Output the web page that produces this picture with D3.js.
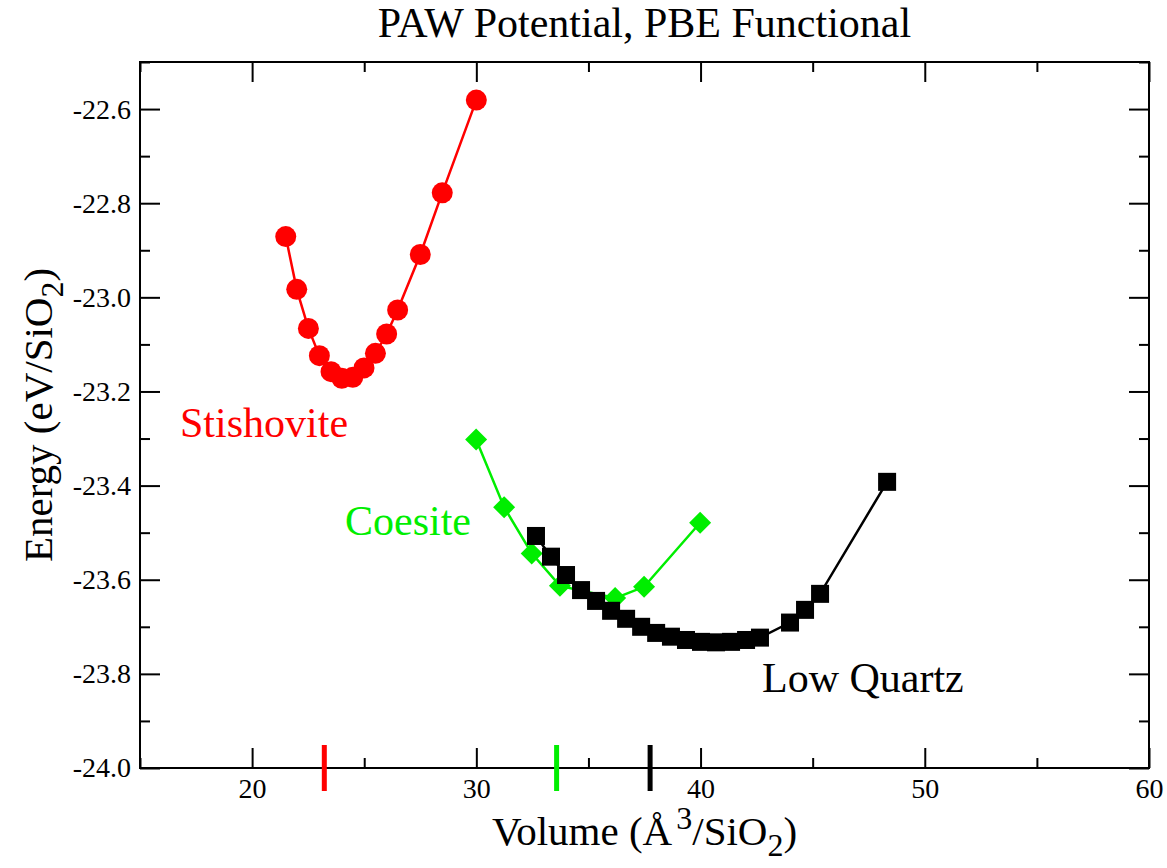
<!DOCTYPE html>
<html>
<head>
<meta charset="utf-8">
<script src="https://cdn.jsdelivr.net/npm/d3@7"></script>
<style>
  body { margin: 0; background: #fff; }
  text { font-family: "Liberation Serif", "Times New Roman", Times, serif; }
</style>
</head>
<body>
<svg id="chart" width="1167" height="868"></svg>
<script>
// data
var stishoviteVol = [21.50, 21.99, 22.51, 23.00, 23.52, 24.00, 24.49, 24.99, 25.50, 26.00, 26.49, 27.50, 28.48, 30.00];
var stishoviteE = [-22.871, -22.983, -23.066, -23.124, -23.158, -23.172, -23.170, -23.150, -23.119, -23.078, -23.027, -22.909, -22.778, -22.581];

var coesiteVol = [29.99, 31.24, 32.47, 33.73, 36.19, 37.48, 39.98];
var coesiteE = [-23.302, -23.446, -23.544, -23.613, -23.639, -23.615, -23.479];

var quartzVol = [32.66, 33.33, 34.00, 34.67, 35.34, 36.01, 36.68, 37.35, 38.02, 38.68, 39.35, 40.02, 40.69, 41.36, 42.03, 42.65, 43.99, 44.66, 45.33, 48.32];
var quartzE = [-23.507, -23.551, -23.590, -23.622, -23.645, -23.666, -23.683, -23.700, -23.713, -23.721, -23.728, -23.732, -23.733, -23.732, -23.728, -23.723, -23.691, -23.664, -23.630, -23.392];

// equilibrium volume marks on the x axis
var eqVolumes = [23.22, 33.58, 37.75];
var eqColors = ["#ff0000", "#00ee00", "#000000"];

var xTicks = [20, 30, 40, 50, 60];
var yTicks = [-24.0, -23.8, -23.6, -23.4, -23.2, -23.0, -22.8, -22.6];

var svg = d3.select("#chart");
// plot box (note: "top" is taken by window.top)
var mLeft = 140, mRight = 1149, mTop = 62, mBottom = 768;

var x = d3.scaleLinear().domain([15, 60]).range([mLeft, mRight]);
var y = d3.scaleLinear().domain([-24, -22.5]).range([mBottom, mTop]);

var zip = (xs, ys) => xs.map((v, i) => ({ x: v, y: ys[i] }));
var line = d3.line().x(d => x(d.x)).y(d => y(d.y));

// ticks on all four sides, pointing inward
var majorX = d3.range(15, 60.1, 5).filter(v => v % 10 == 0);
var minorX = d3.range(15, 60.1, 5).filter(v => v % 10 != 0);
var majorY = d3.range(-24, -22.49, 0.2).map(v => +v.toFixed(1));
var minorY = d3.range(-23.9, -22.49, 0.2).map(v => +v.toFixed(1));

function styleAxis(g) {
  g.attr("font-family", null).attr("font-size", null);
  g.select(".domain").remove();
  g.selectAll("line").attr("stroke", "#000").attr("stroke-width", 2);
  g.selectAll("text").attr("fill", "#000").style("font-size", "28px");
}

svg.append("g").attr("transform", "translate(0," + mBottom + ")")
  .call(d3.axisBottom(x).tickValues(xTicks).tickSize(-20).tickPadding(10).tickFormat(d3.format("d")))
  .call(styleAxis);
svg.append("g").attr("transform", "translate(0," + mBottom + ")")
  .call(d3.axisBottom(x).tickValues(minorX).tickSize(-10).tickFormat(""))
  .call(styleAxis);
svg.append("g").attr("transform", "translate(0," + mTop + ")")
  .call(d3.axisTop(x).tickValues(majorX).tickSize(-20).tickFormat(""))
  .call(styleAxis);
svg.append("g").attr("transform", "translate(0," + mTop + ")")
  .call(d3.axisTop(x).tickValues(minorX).tickSize(-10).tickFormat(""))
  .call(styleAxis);

svg.append("g").attr("transform", "translate(" + mLeft + ",0)")
  .call(d3.axisLeft(y).tickValues(yTicks).tickSize(-20).tickPadding(9).tickFormat(d => d.toFixed(1)))
  .call(styleAxis);
svg.append("g").attr("transform", "translate(" + mLeft + ",0)")
  .call(d3.axisLeft(y).tickValues(minorY).tickSize(-10).tickFormat(""))
  .call(styleAxis);
svg.append("g").attr("transform", "translate(" + mRight + ",0)")
  .call(d3.axisRight(y).tickValues(majorY).tickSize(-20).tickFormat(""))
  .call(styleAxis);
svg.append("g").attr("transform", "translate(" + mRight + ",0)")
  .call(d3.axisRight(y).tickValues(minorY).tickSize(-10).tickFormat(""))
  .call(styleAxis);

// frame
svg.append("rect")
  .attr("x", mLeft).attr("y", mTop)
  .attr("width", mRight - mLeft).attr("height", mBottom - mTop)
  .attr("fill", "none").attr("stroke", "#000").attr("stroke-width", 2);

// equilibrium volume bars
svg.selectAll(".eq").data(eqVolumes).enter().append("line")
  .attr("x1", d => x(d)).attr("x2", d => x(d))
  .attr("y1", mBottom - 23).attr("y2", mBottom + 23)
  .attr("stroke", (d, i) => eqColors[i]).attr("stroke-width", 5);

// stishovite
var stish = zip(stishoviteVol, stishoviteE);
svg.append("path").datum(stish).attr("d", line)
  .attr("fill", "none").attr("stroke", "#ff0000").attr("stroke-width", 2.5);
svg.selectAll(".stish").data(stish).enter().append("circle")
  .attr("cx", d => x(d.x)).attr("cy", d => y(d.y)).attr("r", 10.5)
  .attr("fill", "#ff0000");

// coesite
var coes = zip(coesiteVol, coesiteE);
svg.append("path").datum(coes).attr("d", line)
  .attr("fill", "none").attr("stroke", "#00ee00").attr("stroke-width", 2.5);
svg.selectAll(".coes").data(coes).enter().append("path")
  .attr("d", "M0,-11L11,0L0,11L-11,0Z")
  .attr("transform", d => "translate(" + x(d.x) + "," + y(d.y) + ")")
  .attr("fill", "#00ee00");

// low quartz
var quartz = zip(quartzVol, quartzE);
svg.append("path").datum(quartz).attr("d", line)
  .attr("fill", "none").attr("stroke", "#000").attr("stroke-width", 2.5);
svg.selectAll(".qtz").data(quartz).enter().append("rect")
  .attr("x", d => x(d.x) - 9).attr("y", d => y(d.y) - 9)
  .attr("width", 18).attr("height", 18)
  .attr("fill", "#000");

// series labels
svg.append("text").attr("x", 180).attr("y", 437).attr("fill", "#ff0000")
  .style("font-size", "42px").text("Stishovite");
svg.append("text").attr("x", 345).attr("y", 535).attr("fill", "#00ee00")
  .style("font-size", "42px").text("Coesite");
svg.append("text").attr("x", 762).attr("y", 692).attr("fill", "#000")
  .style("font-size", "42px").text("Low Quartz");

// title
svg.append("text").attr("x", (mLeft + mRight) / 2).attr("y", 37)
  .attr("text-anchor", "middle").style("font-size", "42px")
  .text("PAW Potential, PBE Functional");

// x label
var xl = svg.append("text").attr("x", (mLeft + mRight) / 2).attr("y", 845)
  .attr("text-anchor", "middle").style("font-size", "41px");
xl.append("tspan").text("Volume (Å");
xl.append("tspan").attr("dy", -16).attr("dx", 4).style("font-size", "32px").text("3");
xl.append("tspan").attr("dy", 16).text("/SiO");
xl.append("tspan").attr("dy", 11).style("font-size", "32px").text("2");
xl.append("tspan").attr("dy", -11).text(")");

// y label
var yl = svg.append("text")
  .attr("transform", "translate(52," + ((mTop + mBottom) / 2) + ") rotate(-90)")
  .attr("text-anchor", "middle").style("font-size", "41px");
yl.append("tspan").text("Energy (eV/SiO");
yl.append("tspan").attr("dy", 11).style("font-size", "32px").text("2");
yl.append("tspan").attr("dy", -11).text(")");
</script>
</body>
</html>
